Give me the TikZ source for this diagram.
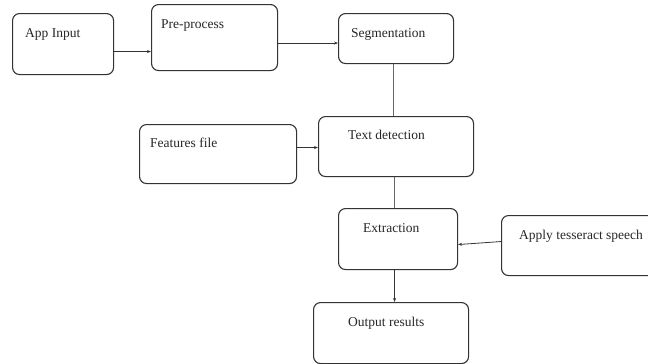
\documentclass[tikz,border=0pt]{standalone}
\usepackage{fontspec}
\setmainfont{Liberation Serif}
\usetikzlibrary{arrows.meta}
\begin{document}
\begin{tikzpicture}[x=1pt,y=-1pt,
  box/.style={draw=black!80,line width=1.1pt,rounded corners=7pt,inner sep=0pt,anchor=north west},
  lbl/.style={anchor=base west,inner sep=0pt,font=\fontsize{13.5}{16}\selectfont,text=black!85},
  arr/.style={draw=black!80,line width=0.8pt,-{Stealth[length=4pt,width=3pt]}},
  ln/.style={draw=black!60,line width=0.8pt}]
\useasboundingbox (0,0) rectangle (648,364);
% boxes
\node[box,minimum width=101pt,minimum height=61pt] (ai) at (12,13) {};
\node[box,minimum width=126pt,minimum height=66pt] (pre) at (151,4) {};
\node[box,minimum width=115pt,minimum height=50pt] (seg) at (338,13) {};
\node[box,minimum width=157pt,minimum height=59pt] (ff) at (139,124) {};
\node[box,minimum width=155pt,minimum height=60pt] (td) at (318,116) {};
\node[box,minimum width=119pt,minimum height=61pt] (ex) at (338,208) {};
\node[box,minimum width=160pt,minimum height=60pt] (ap) at (501,215) {};
\node[box,minimum width=155pt,minimum height=61pt] (out) at (313,302) {};
% labels
\node[lbl] (tai) at (25,37) {App Input};
\node[lbl] (tpre) at (161,28) {Pre-process};
\node[lbl] (tseg) at (351,37) {Segmentation};
\node[lbl] (tff) at (150,147) {Features file};
\node[lbl] (ttd) at (348,139) {Text detection};
\node[lbl] (tex) at (363,232) {Extraction};
\node[lbl] (tap) at (519,239) {Apply tesseract speech};
\node[lbl] (tout) at (348,326) {Output results};
% connectors
\draw[arr] ([yshift=-7.5pt]ai.east) coordinate (c1) -- (c1 -| pre.west);
\draw[arr] ([yshift=-5.5pt]pre.east) coordinate (c2) -- (c2 -| seg.west);
\draw[ln] ([xshift=-2.5pt]seg.south) coordinate (c3) -- (c3 |- td.north);
\draw[arr] ([yshift=6.5pt]ff.east) coordinate (c4) -- (c4 -| td.west);
\draw[ln] ([xshift=-2pt]td.south) coordinate (c5) -- (c5 |- ex.north);
\draw[arr] ([yshift=4pt]ap.west) -- ([yshift=-5.5pt]ex.east);
\draw[arr] ([xshift=-3.5pt]ex.south) coordinate (c6) -- (c6 |- out.north);
\end{tikzpicture}
\end{document}
